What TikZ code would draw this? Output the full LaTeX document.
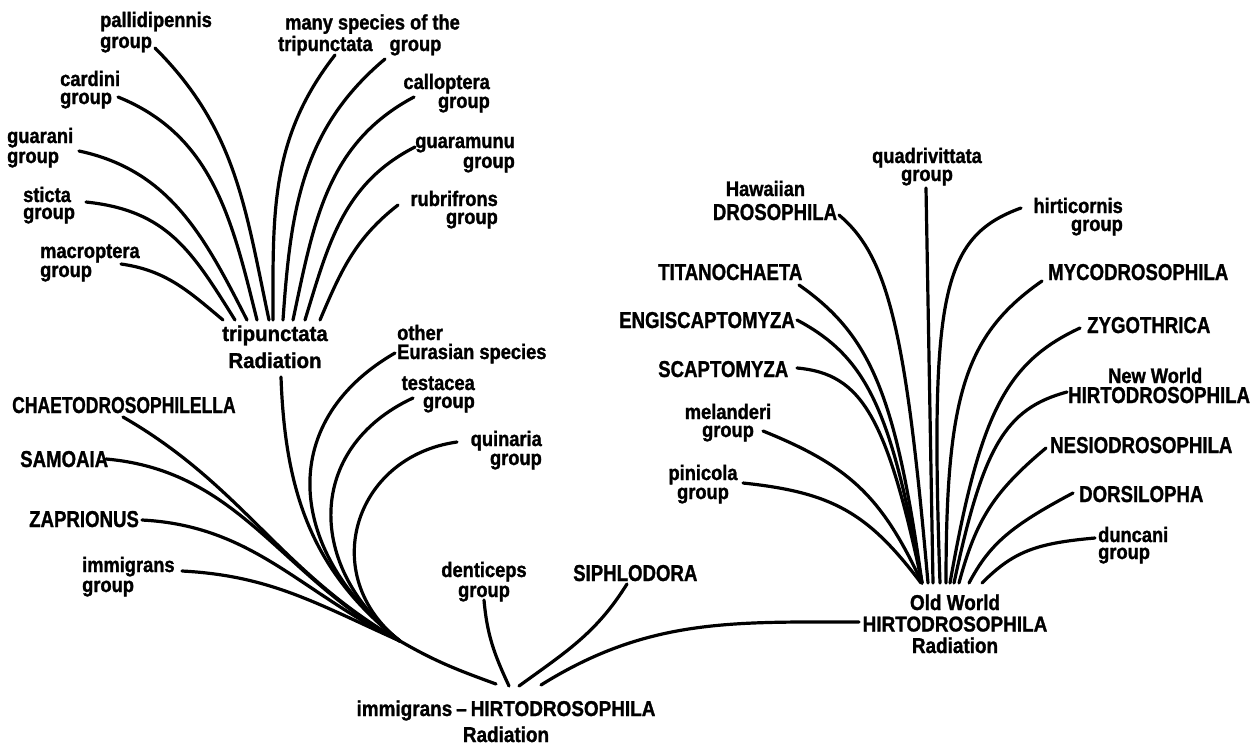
\documentclass[tikz,border=0pt]{standalone}
\usepackage{fontspec}
\usepackage{graphicx}
\newfontfamily\lowf{Liberation Sans}[FakeStretch=0.87,FakeBold=1.3]
\newfontfamily\capf{Liberation Sans}[FakeStretch=0.81,FakeBold=1.1]
\newfontfamily\hubf{Liberation Sans}[FakeStretch=0.88,FakeBold=1.2]
\newcommand\LCf{\lowf\bfseries\fontsize{21}{21}\selectfont}
\newcommand\UCf{\capf\bfseries\fontsize{23}{23}\selectfont}
\newcommand\HBf{\hubf\bfseries\fontsize{21.5}{21.5}\selectfont}
\newcommand\labL[3]{\vtop{\baselineskip=#1\relax\lineskiplimit=-100pt\lineskip=0pt\halign{##\hfil\cr#2\cr#3\cr}}}
\newcommand\labC[3]{\vtop{\baselineskip=#1\relax\lineskiplimit=-100pt\lineskip=0pt\halign{\hfil##\hfil\cr#2\cr#3\cr}}}
\newcommand\labR[3]{\vtop{\baselineskip=#1\relax\lineskiplimit=-100pt\lineskip=0pt\halign{\hfil##\cr#2\cr#3\cr}}}
\newcommand\labCCC[4]{\vtop{\baselineskip=#1\relax\lineskiplimit=-100pt\lineskip=0pt\halign{\hfil##\hfil\cr#2\cr#3\cr#4\cr}}}
\begin{document}
\begin{tikzpicture}[x=1pt,y=1pt,
  lc/.style={font=\LCf, inner sep=0pt},
  uc/.style={font=\UCf, inner sep=0pt},
  hb/.style={font=\HBf, inner sep=0pt},
  branch/.style={line width=3.2pt, line cap=round, line join=round}]
\useasboundingbox (0,0) rectangle (1250,-745);
\fill[white] (0,0) rectangle (1250,-745);

% ---------- tripunctata radiation ----------
\node[lc, anchor=base west] (pal) at (100,-27) {\labL{21pt}{pallidipennis}{group}};
\node[lc, anchor=base west] (card) at (60,-86) {\labL{18pt}{cardini}{group}};
\node[lc, anchor=base west] (guar) at (7,-143) {\labL{20pt}{guarani}{group}};
\node[lc, anchor=base west] (stic) at (23,-202) {\labL{17pt}{sticta}{group}};
\node[lc, anchor=base west] (macr) at (40,-258) {\labL{19pt}{macroptera}{group}};
\node[lc, anchor=base west] (many) at (278,-29.5) {\labL{21.5pt}{\kern7pt many species of the}{tripunctata\kern17pt group}};
\node[lc, anchor=base east] (call) at (490,-89) {\labR{19pt}{calloptera}{group}};
\node[lc, anchor=base east] (guam) at (515,-148) {\labR{20pt}{guaramunu}{group}};
\node[lc, anchor=base east] (rubr) at (498,-206) {\labR{18pt}{rubrifrons}{group}};
\node[hb, anchor=base] (trip) at (275,-341) {\scalebox{1.08}[1]{\labC{27pt}{tripunctata}{Radiation}}};

\coordinate (pal-c) at (155,-48);
\coordinate (card-c) at (118,-97);
\coordinate (guar-c) at (79,-151);
\coordinate (stic-c) at (86,-202);
\coordinate (macr-c) at (121,-264);
\coordinate (many-a) at (335,-55);
\coordinate (many-b) at (385,-59);
\coordinate (call-c) at (414,-97);
\coordinate (guam-c) at (415,-147);
\coordinate (rubr-c) at (398,-205);
\coordinate (t1) at (223,-320);
\coordinate (t2) at (235,-320);
\coordinate (t3) at (247,-320);
\coordinate (t4) at (257,-320);
\coordinate (t5) at (269,-320);
\coordinate (t6) at (273,-320);
\coordinate (t7) at (283,-320);
\coordinate (t8) at (293,-320);
\coordinate (t9) at (305,-320);
\coordinate (t10) at (320,-320);

\draw[branch] (pal-c) to[out=-45,in=102] (t5);
\draw[branch] (card-c) to[out=-22,in=104] (t4);
\draw[branch] (guar-c) to[out=-12,in=117] (t3);
\draw[branch] (stic-c) to[out=-6,in=122,looseness=1.1] (t2);
\draw[branch] (macr-c) to[out=-8,in=140] (t1);
\draw[branch] (many-a) to[out=-128,in=90] (t6);
\draw[branch] (many-b) to[out=-140,in=86] (t7);
\draw[branch] (call-c) to[out=-152,in=78] (t8);
\draw[branch] (guam-c) to[out=-153,in=73] (t9);
\draw[branch] (rubr-c) to[out=-142,in=67] (t10);

% ---------- immigrans - Hirtodrosophila radiation ----------
\node[uc, anchor=base west] (chae) at (12,-413) {\scalebox{0.94}[1]{CHAETODROSOPHILELLA}};
\node[uc, anchor=base west] (samo) at (20,-467) {SAMOAIA};
\node[uc, anchor=base west] (zapr) at (29,-527) {ZAPRIONUS};
\node[lc, anchor=base west] (immg) at (82,-572) {\labL{20pt}{immigrans}{group}};
\node[lc, anchor=base west] (other) at (397,-340) {\labL{19pt}{other}{Eurasian species}};
\node[lc, anchor=base east] (test) at (475,-390) {\labR{18pt}{testacea}{group}};
\node[lc, anchor=base east] (quin) at (542,-446) {\labR{19pt}{quinaria}{group}};
\node[lc, anchor=base] (dent) at (484,-577) {\labC{20pt}{denticeps}{group}};
\node[uc, anchor=base west] (siph) at (573,-581) {SIPHLODORA};
\node[hb, anchor=base] (imhi) at (506,-716) {\labC{26pt}{immigrans\kern4pt\textendash\kern4pt HIRTODROSOPHILA}{Radiation}};

\coordinate (chae-c) at (123,-417);
\coordinate (samo-c) at (106,-459);
\coordinate (zapr-c) at (142,-520);
\coordinate (immg-c) at (182,-571);
\coordinate (trip-c) at (281,-377);
\coordinate (other-c) at (395,-353);
\coordinate (test-c) at (413,-398);
\coordinate (quin-c) at (457,-442);
\coordinate (M) at (400,-641);
\coordinate (E1) at (496,-684);
\coordinate (dent-c) at (484,-600);
\coordinate (dE) at (509,-686);
\coordinate (siph-c) at (627,-584);
\coordinate (sE) at (519,-686);
\coordinate (owS) at (541,-685);
\coordinate (owE) at (859,-622);

\draw[branch] (chae-c) to[out=-30,in=150] (M);
\draw[branch] (samo-c) to[out=-5,in=152] (M);
\draw[branch] (zapr-c) to[out=-3,in=154] (M);
\draw[branch] (immg-c) to[out=-3,in=156] (M);
\draw[branch] (trip-c) to[out=-88,in=142] (M);
\draw[branch] (other-c) to[out=-150,in=142,looseness=1.25] (M);
\draw[branch] (test-c) to[out=-155,in=142,looseness=1.25] (M);
\draw[branch] (quin-c) to[out=-172,in=142,looseness=1.3] (M);
\draw[branch] (M) to[out=-30,in=160] (E1);
\draw[branch] (dent-c) to[out=-85,in=115] (dE);
\draw[branch] (siph-c) to[out=-122,in=36] (sE);
\draw[branch] (owS) to[out=32,in=180] (owE);

% ---------- Old World Hirtodrosophila radiation ----------
\node[uc, anchor=base] (haw) at (775,-196) {\labC{24pt}{\LCf Hawaiian\kern19pt}{DROSOPHILA}};
\node[lc, anchor=base] (quad) at (927,-163) {\labC{18pt}{quadrivittata}{group}};
\node[uc, anchor=base west] (titan) at (658,-280) {TITANOCHAETA};
\node[uc, anchor=base west] (engi) at (619,-328) {ENGISCAPTOMYZA};
\node[uc, anchor=base west] (scap) at (658,-377) {SCAPTOMYZA};
\node[lc, anchor=base] (mela) at (728,-419) {\labC{18pt}{melanderi}{group}};
\node[lc, anchor=base] (pini) at (703,-480) {\labC{19pt}{pinicola}{group}};
\node[lc, anchor=base east] (hirt) at (1123,-213) {\labR{18pt}{hirticornis}{group}};
\node[uc, anchor=base west] (myco) at (1048,-280) {MYCODROSOPHILA};
\node[uc, anchor=base west] (zygo) at (1087,-333) {ZYGOTHRICA};
\node[uc, anchor=base west] (neww) at (1068,-383) {\labL{20pt}{\kern40pt\LCf New World}{HIRTODROSOPHILA}};
\node[uc, anchor=base west] (nesi) at (1050,-453) {NESIODROSOPHILA};
\node[uc, anchor=base west] (dors) at (1079,-502) {DORSILOPHA};
\node[lc, anchor=base west] (dunc) at (1098,-542) {\labL{17pt}{duncani}{group}};
\node[hb, anchor=base] (oldw) at (955,-610) {\labCCC{21.5pt}{Old World}{HIRTODROSOPHILA}{Radiation}};

\coordinate (pini-c) at (743,-483);
\coordinate (mela-c) at (763,-431);
\coordinate (scap-c) at (797,-368);
\coordinate (engi-c) at (797,-320);
\coordinate (titan-c) at (799,-285);
\coordinate (haw-c) at (839,-215);
\coordinate (quad-c) at (926,-188);
\coordinate (hirt-c) at (1021,-208);
\coordinate (myco-c) at (1042,-281);
\coordinate (zygo-c) at (1080,-328);
\coordinate (neww-c) at (1067,-392);
\coordinate (nesi-c) at (1046,-448);
\coordinate (dors-c) at (1073,-493);
\coordinate (dunc-c) at (1095,-538);
\coordinate (h1) at (921,-583);
\coordinate (h2) at (922,-583);
\coordinate (h3) at (928,-583);
\coordinate (h4) at (933,-583);
\coordinate (h5) at (940,-583);
\coordinate (h6) at (946,-583);
\coordinate (h7) at (950,-583);
\coordinate (h8) at (954,-583);
\coordinate (h9) at (959,-583);
\coordinate (h10) at (969,-583);
\coordinate (h11) at (982,-583);

\draw[branch] (pini-c) to[out=-6,in=127,out distance=90pt,in distance=88pt] (h1);
\draw[branch] (mela-c) to[out=-22,in=115,out distance=94pt,in distance=95pt] (h2);
\draw[branch] (scap-c) to[out=-5,in=102,out distance=65pt,in distance=170pt] (h2);
\draw[branch] (engi-c) to[out=-28,in=100,out distance=79pt,in distance=176pt] (h2);
\draw[branch] (titan-c) to[out=-35,in=98,out distance=88pt,in distance=190pt] (h2);
\draw[branch] (haw-c) to[out=-40,in=95,out distance=64pt,in distance=254pt] (h3);
\draw[branch] (quad-c) -- (h4);
\draw[branch] (hirt-c) to[out=-160,in=92,out distance=84pt,in distance=290pt] (h5);
\draw[branch] (myco-c) to[out=-145,in=90,out distance=94pt,in distance=188pt] (h6);
\draw[branch] (zygo-c) to[out=-155,in=80,out distance=82pt,in distance=172pt] (h7);
\draw[branch] (neww-c) to[out=-165,in=78,out distance=64pt,in distance=139pt] (h8);
\draw[branch] (nesi-c) to[out=-140,in=75,out distance=68pt,in distance=66pt] (h9);
\draw[branch] (dors-c) to[out=-152,in=62,out distance=71pt,in distance=44pt] (h10);
\draw[branch] (dunc-c) to[out=-175,in=45,out distance=60pt,in distance=44pt] (h11);
\end{tikzpicture}
\end{document}
